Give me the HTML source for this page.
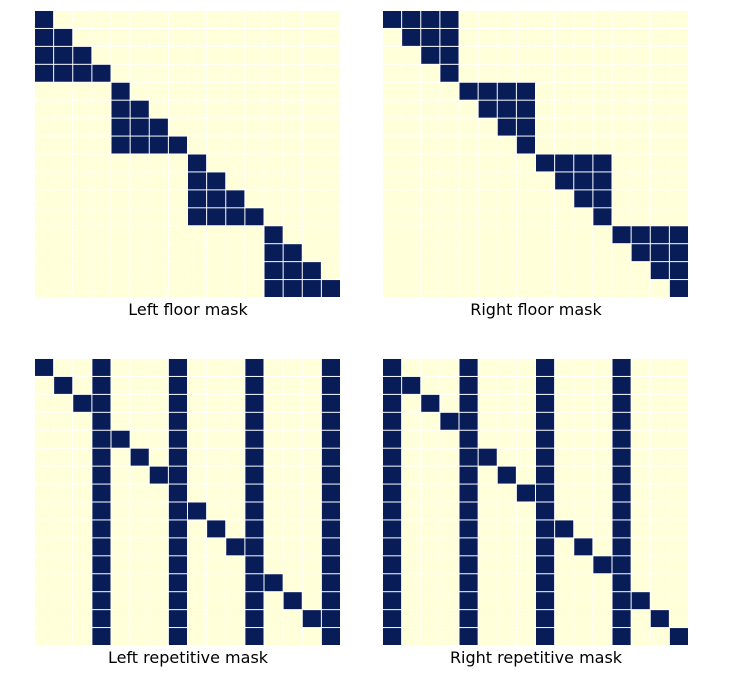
<!DOCTYPE html>
<html><head><meta charset="utf-8"><style>
body{margin:0;background:#fff;width:729px;height:675px;overflow:hidden}
svg text{font-family:"DejaVu Sans","Liberation Sans",sans-serif;font-size:16px;fill:#000}
</style></head><body>
<svg id="c" width="729" height="675"></svg>
<script>
const panelTitles=["Left floor mask","Right floor mask","Left repetitive mask","Right repetitive mask"];
const blockSize=4;
const seqLen=16;
const panelKinds=["leftFloor","rightFloor","leftRep","rightRep"];
function masked(kind,i,j){
  const bi=Math.floor(i/blockSize),bj=Math.floor(j/blockSize);
  if(kind==="leftFloor")return bi===bj&&j<=i;
  if(kind==="rightFloor")return bi===bj&&j>=i;
  if(kind==="leftRep")return j===i||j%blockSize===blockSize-1;
  return j===i||j%blockSize===0;
}
const svg=document.getElementById('c');
const NS="http://www.w3.org/2000/svg";
const ox=[35,383],oy=[11,359],W=306,H=287;
panelKinds.forEach((k,p)=>{
  const x0=ox[p%2],y0=oy[Math.floor(p/2)];
  const g=document.createElementNS(NS,'g');
  
  
  svg.appendChild(g);
  const cw=W/seqLen,ch=H/seqLen;
  const bg=document.createElementNS(NS,'rect');
  bg.setAttribute('x',x0);bg.setAttribute('y',y0);bg.setAttribute('width',W);bg.setAttribute('height',H);bg.setAttribute('fill','#fff');
  g.appendChild(bg);
  for(let i=0;i<seqLen;i++)for(let j=0;j<seqLen;j++){
    const r=document.createElementNS(NS,'rect');
    
    
    r.setAttribute('x',(x0+j*cw).toFixed(2));
    r.setAttribute('y',(y0+i*ch).toFixed(2));
    r.setAttribute('width',(cw-1).toFixed(2));
    r.setAttribute('height',(ch-1).toFixed(2));
    r.setAttribute('fill',masked(k,i,j)?'#081d58':'#ffffd9');
    g.appendChild(r);
  }
  const t=document.createElementNS(NS,'text');
  
  
  t.setAttribute('x',x0+W/2);t.setAttribute('y',y0+H+17);
  t.setAttribute('text-anchor','middle');
  t.textContent=panelTitles[p];
  g.appendChild(t);
});
</script>
</body></html>
